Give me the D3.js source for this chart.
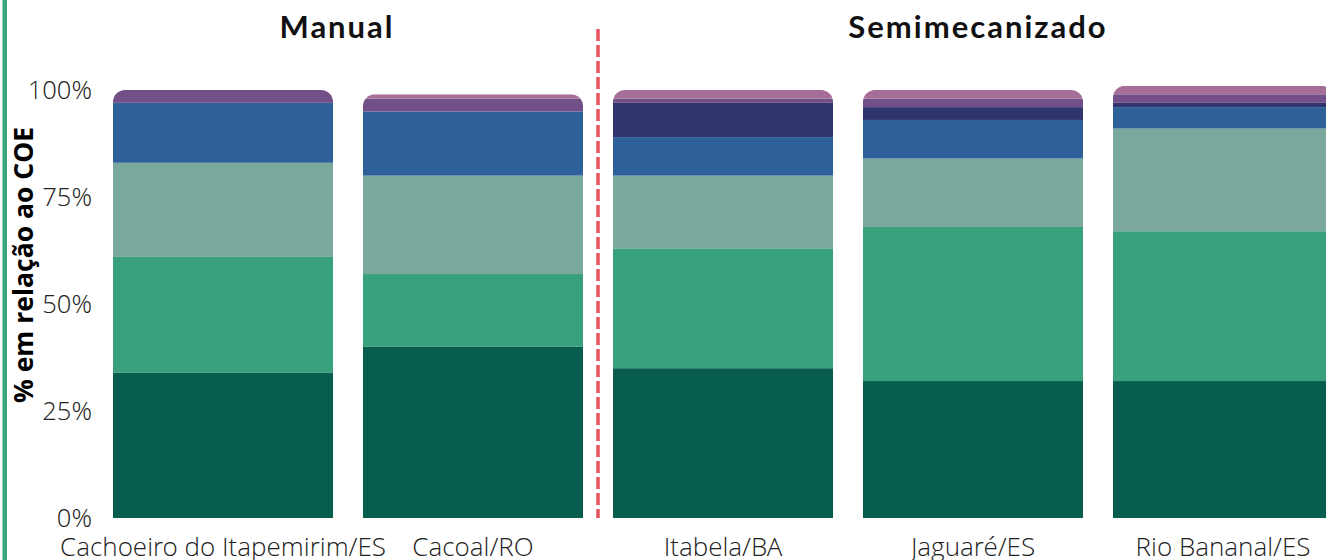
<!DOCTYPE html>
<html>
<head>
<meta charset="utf-8">
<script src="https://cdn.jsdelivr.net/npm/d3@7"></script>
<style>
  html, body { margin: 0; padding: 0; background: #ffffff; }
  svg { display: block; }
</style>
</head>
<body>
<svg id="chart" width="1326" height="560"></svg>
<script>
// Municípios e composição do COE (%), de baixo para cima
const categories = ["Cachoeiro do Itapemirim/ES", "Cacoal/RO", "Itabela/BA", "Jaguaré/ES", "Rio Bananal/ES"];
const seriesKeys = ["comp1", "comp2", "comp3", "comp4", "comp5", "comp6", "comp7"];
const comp1 = [34, 40, 35, 32, 32];
const comp2 = [27, 17, 28, 36, 35];
const comp3 = [22, 23, 17, 16, 24];
const comp4 = [14, 15, 9, 9, 5];
const comp5 = [0, 0, 8, 3, 1];
const comp6 = [3, 3, 1, 2, 2];
const comp7 = [0, 1, 2, 2, 2];
const seriesColors = ["#075e4e", "#38a07b", "#7aa89d", "#2e6099", "#31356e", "#734f88", "#a66d97"];
const yTicks = [0, 25, 50, 75, 100];
const groupTitles = ["Manual", "Semimecanizado"];

const values = [comp1, comp2, comp3, comp4, comp5, comp6, comp7];
const rows = categories.map((c, i) => {
  const r = { cat: c };
  seriesKeys.forEach((k, j) => { r[k] = values[j][i]; });
  return r;
});

const svg = d3.select("#chart");
const W = 1326, H = 560;
const lightFont = "'Open Sans Light', 'Open Sans', sans-serif";

const x = d3.scaleBand().domain(categories).range([98, 1348]).paddingInner(0.12).paddingOuter(0.06);
const y = d3.scaleLinear().domain([0, 100]).range([518, 90]);
const color = d3.scaleOrdinal().domain(seriesKeys).range(seriesColors);

const stacked = d3.stack().keys(seriesKeys)(rows);
const totals = rows.map(r => d3.sum(seriesKeys, k => r[k]));

// Contorno arredondado no topo de cada coluna
const radius = 12;
const defs = svg.append("defs");
categories.forEach((c, i) => {
  const x0 = x(c), x1 = x0 + x.bandwidth();
  const yt = y(totals[i]), yb = y(0);
  const p = d3.path();
  p.moveTo(x0, yb);
  p.lineTo(x0, yt + radius);
  p.arcTo(x0, yt, x0 + radius, yt, radius);
  p.lineTo(x1 - radius, yt);
  p.arcTo(x1, yt, x1, yt + radius, radius);
  p.lineTo(x1, yb);
  p.closePath();
  defs.append("clipPath").attr("id", "bar-clip-" + i).append("path").attr("d", p.toString());
});

const barGroups = svg.append("g").selectAll("g")
  .data(categories)
  .join("g")
  .attr("clip-path", (d, i) => `url(#bar-clip-${i})`);

barGroups.each(function(c, i) {
  d3.select(this).selectAll("rect")
    .data(stacked.map(s => ({ key: s.key, seg: s[i] })))
    .join("rect")
    .attr("x", x(c))
    .attr("width", x.bandwidth())
    .attr("y", d => y(d.seg[1]))
    .attr("height", d => y(d.seg[0]) - y(d.seg[1]))
    .attr("fill", d => color(d.key));
});

// Eixo Y
const yAxis = svg.append("g")
  .attr("transform", "translate(92,0)")
  .call(d3.axisLeft(y).tickValues(yTicks).tickFormat(d => d + "%").tickSize(0).tickPadding(0));
yAxis.select(".domain").remove();
yAxis.selectAll("text")
  .attr("font-family", lightFont)
  .attr("font-weight", 300)
  .attr("font-size", 25.5)
  .attr("fill", "#222");

// Eixo X
const xAxis = svg.append("g")
  .attr("transform", "translate(0,518)")
  .call(d3.axisBottom(x).tickSize(0).tickPadding(20));
xAxis.select(".domain").remove();
xAxis.selectAll("text")
  .attr("font-family", lightFont)
  .attr("font-weight", 300)
  .attr("font-size", 26)
  .attr("fill", "#222");

// Título do eixo Y
svg.append("text")
  .attr("transform", "translate(33,265) rotate(-90)")
  .attr("text-anchor", "middle")
  .attr("font-family", "'Open Sans', sans-serif")
  .attr("font-weight", 700)
  .attr("font-size", 26.5)
  .attr("fill", "#000")
  .text("% em relação ao COE");

// Separador entre os sistemas
const sepX = (x(categories[1]) + x.bandwidth() + x(categories[2])) / 2;
svg.append("line")
  .attr("x1", sepX).attr("x2", sepX)
  .attr("y1", 29).attr("y2", 518)
  .attr("stroke", "#e8525f")
  .attr("stroke-width", 3.5)
  .attr("stroke-dasharray", "12 4");

// Títulos dos grupos
const titleCenters = [337, 978];
groupTitles.forEach((t, i) => {
  svg.append("text")
    .attr("x", titleCenters[i]).attr("y", 38)
    .attr("text-anchor", "middle")
    .attr("font-family", "Lato, sans-serif")
    .attr("font-weight", 700)
    .attr("font-size", 31)
    .attr("letter-spacing", 2)
    .attr("fill", "#111")
    .text(t);
});

// Faixa verde na borda esquerda
svg.append("rect")
  .attr("x", 2.5).attr("y", 0)
  .attr("width", 4.5).attr("height", H)
  .attr("fill", "#3aa77b");
</script>
</body>
</html>
